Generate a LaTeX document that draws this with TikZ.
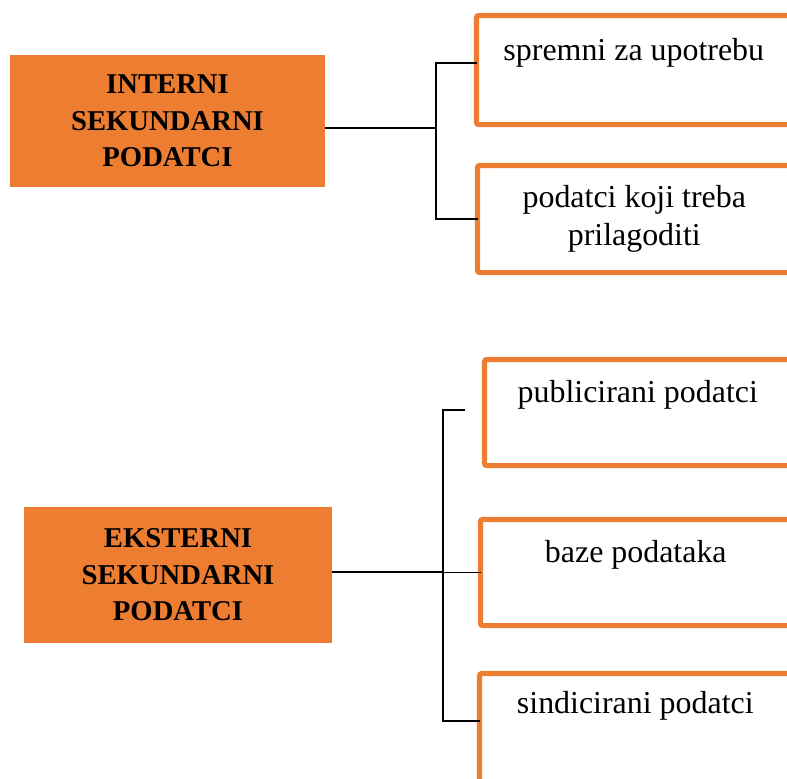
\documentclass[tikz,border=0pt]{standalone}
\usepackage{fontspec}
\setmainfont{Liberation Serif}
\usetikzlibrary{positioning,calc}
\definecolor{boxorange}{RGB}{237,125,49}

\begin{document}
\begin{tikzpicture}[
    x=0.025cm, y=-0.025cm,
    head/.style={rectangle, fill=boxorange, minimum height=3.3cm, align=center, font=\fontsize{20.4}{26}\selectfont\bfseries},
    item/.style={rectangle, draw=boxorange, line width=3.6pt, rounded corners=1.5pt, fill=white, inner sep=0pt, outer sep=0pt, align=center, anchor=north west, font=\fontsize{22.7}{27}\selectfont},
    link/.style={line width=0.8pt, black}
]
\clip (0,0) rectangle (787,778);

% Internal data
\node[head, minimum width=7.875cm] (internal) at (167.5,121) {INTERNI\\SEKUNDARNI\\PODATCI};
\node[item, minimum width=7.8625cm, text height=1.1125cm, text depth=1.6125cm] (ready) at (476.5,15.5) {spremni za upotrebu};
\node[item, minimum width=7.8375cm, minimum height=2.675cm] (adjust) at (477.5,165.5) {podatci koji treba\\prilagoditi};

% External data
\node[head, minimum width=7.7cm, minimum height=3.4cm] (external) at (178,575) {EKSTERNI\\SEKUNDARNI\\PODATCI};
\node[item, minimum width=7.6625cm, text height=1.0625cm, text depth=1.5875cm] (published) at (484.5,359.5) {publicirani podatci};
\node[item, minimum width=7.7625cm, text height=1.0625cm, text depth=1.5875cm] (databases) at (480.5,519.5) {baze podataka};
\node[item, minimum width=7.7875cm, text height=0.9875cm, text depth=1.725cm] (syndicated) at (479.5,673.5) {sindicirani podatci};

% Links
\coordinate (jtop) at (436,128);
\coordinate (jbot) at (443,572);
\coordinate (pubend) at (465,410);
\draw[link, line width=1.2pt] (internal.east |- jtop) -- (jtop);
\draw[link] (jtop) |- (ready.west |- 0,63);
\draw[link] (jtop) |- (adjust.west);
\draw[link] (external.east |- jbot) -- (jbot);
\draw[link] (jbot) |- (pubend);
\draw[link] (jbot) |- (databases.west);
\draw[link] (jbot) |- (syndicated.west |- 0,721);

\end{tikzpicture}
\end{document}
